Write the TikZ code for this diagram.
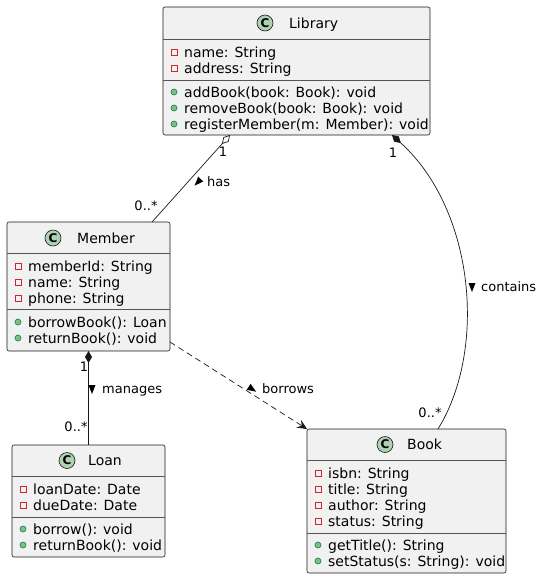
\documentclass[tikz,border=0pt]{standalone}
\usepackage{fontspec}
\setmainfont{DejaVu Sans}
\usetikzlibrary{arrows.meta,calc}
\definecolor{cfill}{HTML}{F1F1F1}
\definecolor{cline}{HTML}{181818}
\definecolor{sepc}{HTML}{555555}
\definecolor{spot}{HTML}{ADD1B2}
\definecolor{privred}{HTML}{C82930}
\definecolor{pubfill}{HTML}{84BE84}
\definecolor{publine}{HTML}{038048}
\newcommand\privmark[2]{\draw[draw=privred,line width=0.8pt] (#1-3,#2-3) rectangle (#1+3,#2+3);}
\newcommand\pubmark[2]{\filldraw[fill=pubfill,draw=publine,line width=0.6pt] (#1,#2) circle[radius=3];}
\newcommand\dirtri[3]{\fill[shift={(#1,#2)},rotate=#3] (5,0) -- (-4,-3.5) -- (-4,3.5) -- cycle;}
\begin{document}
\begin{tikzpicture}[x=1pt,y=-1pt,
  cbox/.style={draw=cline, fill=cfill, line width=0.6pt, rounded corners=2pt, inner sep=0pt, outer sep=0pt},
  sepline/.style={draw=sepc, line width=0.6pt},
  txt/.style={anchor=west, inner sep=0pt, font=\fontsize{14}{16}\selectfont, text height=10pt, text depth=0pt},
  spotc/.style={circle, draw=cline, fill=spot, line width=0.6pt, minimum size=16pt, inner sep=0pt, font=\bfseries\fontsize{12}{12}\selectfont},
  lbl/.style={inner sep=0pt, font=\fontsize{13}{15}\selectfont, text height=9.5pt, text depth=0pt},
  link/.style={draw=cline, line width=0.7pt}]
\useasboundingbox (0,0) rectangle (542,579);

% ---------- Library ----------
\node[cbox, minimum width=267pt, minimum height=128pt] (lib) at (296.5,71) {};
\draw[sepline] (163,39) -- (430,39);
\draw[sepline] (163,80) -- (430,80);
\node[spotc] (libC) at (265,23) {C};
\node[txt] (libN) at (289,23) {Library};
\privmark{174}{52}\node[txt] (libA1) at (184,52) {name: String};
\privmark{174}{68}\node[txt] (libA2) at (184,68) {address: String};
\pubmark{174}{92}\node[txt] (libM1) at (184,92) {addBook(book: Book): void};
\pubmark{174}{108}\node[txt] (libM2) at (184,108) {removeBook(book: Book): void};
\pubmark{174}{124}\node[txt] (libM3) at (184,124) {registerMember(m: Member): void};

% ---------- Member ----------
\node[cbox, minimum width=163pt, minimum height=129pt] (mem) at (88.5,286.5) {};
\draw[sepline] (7,253) -- (170,253);
\draw[sepline] (7,309) -- (170,309);
\node[spotc] (memC) at (53,238) {C};
\node[txt] (memN) at (77,238) {Member};
\privmark{18}{266}\node[txt] (memA1) at (28,266) {memberId: String};
\privmark{18}{282}\node[txt] (memA2) at (28,282) {name: String};
\privmark{18}{298}\node[txt] (memA3) at (28,298) {phone: String};
\pubmark{18}{322}\node[txt] (memM1) at (28,322) {borrowBook(): Loan};
\pubmark{18}{338}\node[txt] (memM2) at (28,338) {returnBook(): void};

% ---------- Loan ----------
\node[cbox, minimum width=153pt, minimum height=112pt] (loan) at (88.5,501) {};
\draw[sepline] (12,476) -- (165,476);
\draw[sepline] (12,517) -- (165,517);
\node[spotc] (loanC) at (67,460.5) {C};
\node[txt] (loanN) at (88,460.5) {Loan};
\privmark{23}{489}\node[txt] (loanA1) at (33,489) {loanDate: Date};
\privmark{23}{505}\node[txt] (loanA2) at (33,505) {dueDate: Date};
\pubmark{23}{529}\node[txt] (loanM1) at (33,529) {borrow(): void};
\pubmark{23}{545}\node[txt] (loanM2) at (33,545) {returnBook(): void};

% ---------- Book ----------
\node[cbox, minimum width=199pt, minimum height=144pt] (book) at (406.5,501) {};
\draw[sepline] (307,460) -- (506,460);
\draw[sepline] (307,533) -- (506,533);
\node[spotc] (bookC) at (385,444.5) {C};
\node[txt] (bookN) at (407,444.5) {Book};
\privmark{318}{473}\node[txt] (bookA1) at (328,473) {isbn: String};
\privmark{318}{489}\node[txt] (bookA2) at (328,489) {title: String};
\privmark{318}{505}\node[txt] (bookA3) at (328,505) {author: String};
\privmark{318}{521}\node[txt] (bookA4) at (328,521) {status: String};
\pubmark{318}{545}\node[txt] (bookM1) at (328,545) {getTitle(): String};
\pubmark{318}{561}\node[txt] (bookM2) at (328,561) {setStatus(s: String): void};

% ---------- Connectors ----------
% Library o-- Member : has
\draw[link, {Diamond[open,length=12pt,width=7pt]}-] ($(lib.south west)+(67,0)$) -- ($(mem.north west)+(145,0)$);
\node[lbl] (hasOne) at (223,152) {1};
\node[lbl] (hasMany) at (146,206) {0..*};
\dirtri{198}{182}{226.7}
\node[lbl, anchor=west] (hasL) at (207,182) {has};

% Library *-- Book : contains
\draw[link, {Diamond[length=12pt,width=7pt]}-] ($(lib.south west)+(229,0)$) .. controls (475,210) and (487,350) .. ($(book.north west)+(131,0)$);
\node[lbl] (conOne) at (393,153) {1};
\node[lbl] (conMany) at (430,413) {0..*};
\dirtri{472}{287}{-90}
\node[lbl, anchor=west] (conL) at (481,287) {contains};

% Member *-- Loan : manages
\draw[link, {Diamond[length=12pt,width=7pt]}-] (mem.south) -- (loan.north);
\node[lbl] (manOne) at (84,367) {1};
\node[lbl] (manMany) at (76,427) {0..*};
\dirtri{92}{389}{-90}
\node[lbl, anchor=west] (manL) at (102,389) {manages};

% Member ..> Book : borrows
\draw[link, dash pattern=on 6pt off 4pt, -{Stealth[length=10pt,width=9pt,inset=4pt]}] ($(mem.south east)+(0,-9)$) -- (book.north west);
\dirtri{252}{389}{-33.3}
\node[lbl, anchor=west] (borL) at (262,389) {borrows};
\end{tikzpicture}
\end{document}
